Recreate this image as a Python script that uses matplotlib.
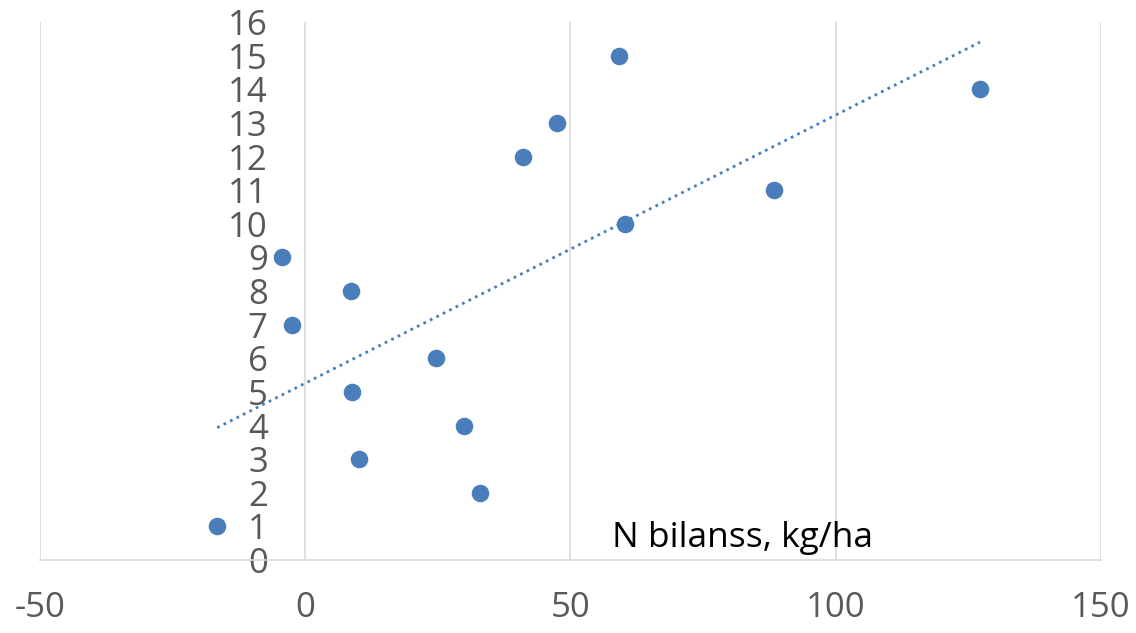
"""Scatter of N balance vs rank with a linear trendline."""

import matplotlib
matplotlib.use('Agg')
import matplotlib.pyplot as plt
import numpy as np

# ── Data ──
n_balance = [-16.6, 33.0, 10.2, 30.0, 8.9, 24.7, -2.5, 8.7, -4.3,
             60.2, 88.3, 41.1, 47.5, 59.1, 127.2]
rank = [1, 2, 3, 4, 5, 6, 7, 8, 9, 10, 11, 12, 13, 15, 14]
x_ticks = [-50, 0, 50, 100, 150]
y_ticks = list(range(0, 17))
axis_title = 'N bilanss, kg/ha'

POINT_COLOR = '#4A7EBB'
GRID_COLOR = '#D9D9D9'
TEXT_COLOR = '#595959'

plt.rcParams['font.family'] = ['Open Sans', 'DejaVu Sans']
plt.rcParams['axes.unicode_minus'] = False

fig = plt.figure(figsize=(11.36, 6.33), dpi=100)
ax = fig.add_axes([0.0352, 0.1153, 0.9340, 0.8499])

ax.scatter(n_balance, rank, s=160, color=POINT_COLOR, zorder=3, linewidths=0)

# linear trendline over the data range
slope, intercept = np.polyfit(n_balance, rank, 1)
xs = np.array([min(n_balance), max(n_balance)])
ax.plot(xs, slope * xs + intercept, linestyle=(0, (1, 1.6)), color=POINT_COLOR,
        linewidth=2.0, zorder=2)

ax.set_xlim(-50, 150)
ax.set_ylim(0, 16)
ax.set_xticks(x_ticks)
ax.set_yticks(y_ticks)

ax.grid(axis='x', color=GRID_COLOR, linewidth=1.2)
ax.set_axisbelow(True)

for side in ['top', 'right']:
    ax.spines[side].set_visible(False)
ax.spines['left'].set_position(('data', 0))
ax.spines['left'].set_visible(False)
ax.spines['bottom'].set_color(GRID_COLOR)
ax.spines['bottom'].set_linewidth(1.2)

ax.tick_params(axis='y', length=0, pad=27, labelsize=25, labelcolor=TEXT_COLOR)
ax.tick_params(axis='x', length=0, pad=22, labelsize=25, labelcolor=TEXT_COLOR)

ax.text(57.9, 0.39, axis_title, fontsize=25.5, color='black', va='baseline', ha='left')

fig.savefig('out.png', dpi=100)
plt.close(fig)
